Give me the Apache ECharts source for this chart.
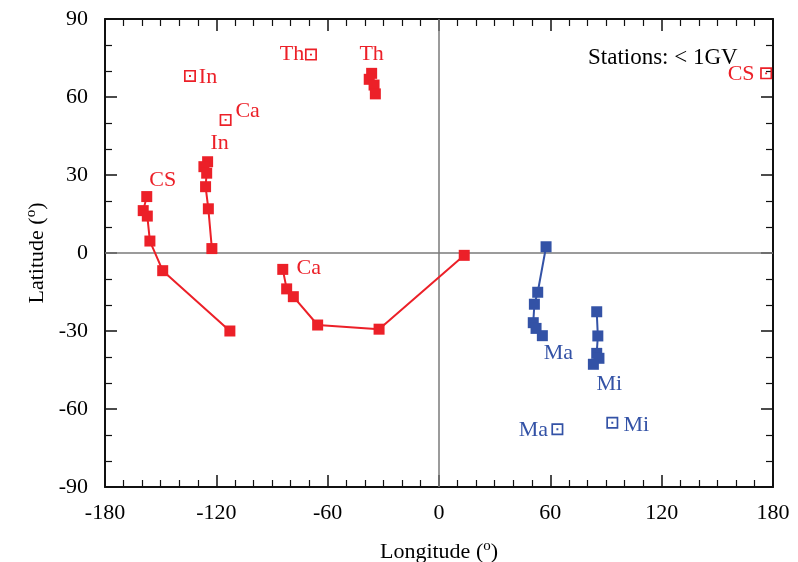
<!DOCTYPE html>
<html>
<head>
<meta charset="utf-8">
<script src="https://cdn.jsdelivr.net/npm/echarts@6/dist/echarts.min.js"></script>
<style>
  html, body { margin: 0; padding: 0; background: #fff; }
  #chart { width: 798px; height: 562px; }
</style>
</head>
<body>
<div id="chart"></div>
<script>
// tracks: [longitude, latitude]
const csTrack = [[-157.5, 21.7], [-159.4, 16.3], [-157.2, 14.2], [-155.8, 4.6], [-148.9, -6.8], [-112.7, -30.0]];
const inTrack = [[-124.7, 35.1], [-126.7, 33.2], [-125.2, 30.7], [-125.8, 25.5], [-124.3, 17.0], [-122.4, 1.7]];
const thTrack = [[-36.3, 69.1], [-37.6, 66.8], [-35.0, 64.6], [-34.3, 61.2]];
const caTrack = [[-84.2, -6.3], [-82.1, -13.8], [-78.5, -16.8], [-65.4, -27.7], [-32.3, -29.3], [13.6, -0.9]];
const maTrack = [[57.7, 2.4], [53.2, -15.1], [51.4, -19.7], [50.8, -26.8], [52.3, -29.0], [55.7, -31.8]];
const miTrack = [[85.0, -22.6], [85.6, -31.9], [85.0, -38.6], [86.2, -40.5], [83.2, -42.8]];

// stations
const redStations = [[-134.2, 68.1], [-115.0, 51.2], [-69.0, 76.3], [176.3, 69.1]];
const redStationNames = ["In", "Ca", "Th", "CS"];
const blueStations = [[63.8, -67.8], [93.4, -65.3]];
const blueStationNames = ["Ma", "Mi"];

const xTicks = [-180, 180, 60];
const yTicks = [-90, 90, 30];

const RED = "#ec2028";
const BLUE = "#3352a6";
const FONT = "Liberation Serif";
const stationSymbol = "path://M0,0H10V10H0Z M1.4,1.4V8.6H8.6V1.4Z M4.2,4.2H5.8V5.8H4.2Z";

function lbl(text, color, offset) {
  return {
    show: true,
    position: "inside",
    formatter: text,
    offset: offset,
    color: color,
    fontFamily: FONT,
    fontSize: 22,
  };
}

function track(name, pts, color, labelIdx, offset) {
  return {
    name: name,
    type: "line",
    symbol: "rect",
    symbolSize: 11,
    lineStyle: { color: color, width: 2 },
    itemStyle: { color: color, opacity: 1 },
    z: 3,
    data: pts.map((p, i) =>
      i === labelIdx ? { value: p, label: lbl(name, color, offset) } : { value: p }
    ),
  };
}

function stations(pts, names, color, offsets) {
  return {
    type: "scatter",
    symbol: stationSymbol,
    symbolSize: 12,
    itemStyle: { color: color, opacity: 1 },
    z: 3,
    data: pts.map((p, i) => ({ value: p, label: lbl(names[i], color, offsets[i]) })),
  };
}

function xAxisCfg(pos, showLabels) {
  return {
    type: "value",
    position: pos,
    min: xTicks[0],
    max: xTicks[1],
    interval: xTicks[2],
    axisLine: { show: true, onZero: false, lineStyle: { color: "#111", width: 2 } },
    axisTick: { show: true, inside: true, length: 12, lineStyle: { color: "#111", width: 1.5 } },
    minorTick: { show: true, splitNumber: 6, length: 7, lineStyle: { color: "#111", width: 1.2 } },
    splitLine: { show: false },
    axisLabel: { show: showLabels, color: "#000", fontFamily: FONT, fontSize: 22, margin: 15 },
  };
}

function yAxisCfg(pos, showLabels) {
  return {
    type: "value",
    position: pos,
    min: yTicks[0],
    max: yTicks[1],
    interval: yTicks[2],
    axisLine: { show: true, onZero: false, lineStyle: { color: "#111", width: 2 } },
    axisTick: { show: true, inside: true, length: 12, lineStyle: { color: "#111", width: 1.5 } },
    minorTick: { show: true, splitNumber: 3, length: 7, lineStyle: { color: "#111", width: 1.2 } },
    splitLine: { show: false },
    axisLabel: { show: showLabels, color: "#000", fontFamily: FONT, fontSize: 22, margin: 17 },
  };
}

const nameRich = {
  n: { fontFamily: FONT, fontSize: 22, color: "#000" },
  s: { fontFamily: FONT, fontSize: 15, color: "#000", padding: [0, 0, 12, 0] },
};

const chart = echarts.init(document.getElementById("chart"));

const xBottom = xAxisCfg("bottom", true);
xBottom.name = "{n|Longitude (}{s|o}{n|)}";
xBottom.nameLocation = "middle";
xBottom.nameGap = 52;
xBottom.nameTextStyle = { rich: nameRich };

const yLeft = yAxisCfg("left", true);
yLeft.name = "{n|Latitude (}{s|o}{n|)}";
yLeft.nameLocation = "middle";
yLeft.nameGap = 51;
yLeft.nameTextStyle = { rich: nameRich };

const caSeries = track("Ca", caTrack, RED, 0, [26, -1]);
caSeries.markLine = {
  silent: true,
  symbol: "none",
  label: { show: false },
  lineStyle: { color: "#7a7a7a", width: 1.5, type: "solid" },
  data: [{ xAxis: 0 }, { yAxis: 0 }],
  z: 1,
};

chart.setOption({
  animation: false,
  backgroundColor: "#fff",
  grid: { left: 105, right: 25, top: 19, bottom: 75, outerBoundsMode: "none" },
  xAxis: [xBottom, xAxisCfg("top", false)],
  yAxis: [yLeft, yAxisCfg("right", false)],
  graphic: [
    {
      type: "text",
      left: 588,
      top: 46,
      style: { text: "Stations: < 1GV", fill: "#000", font: "23px 'Liberation Serif'" },
    },
  ],
  series: [
    track("CS", csTrack, RED, 0, [16, -16]),
    track("In", inTrack, RED, 0, [12, -19]),
    track("Th", thTrack, RED, 0, [0, -19]),
    caSeries,
    track("Ma", maTrack, BLUE, 5, [16, 18]),
    track("Mi", miTrack, BLUE, 4, [16, 20]),
    stations(redStations, redStationNames, RED, [[18, 1], [22, -9], [-19, 0], [-25, 1]]),
    stations(blueStations, blueStationNames, BLUE, [[-24, 1], [24, 2]]),
  ],
});
</script>
</body>
</html>
